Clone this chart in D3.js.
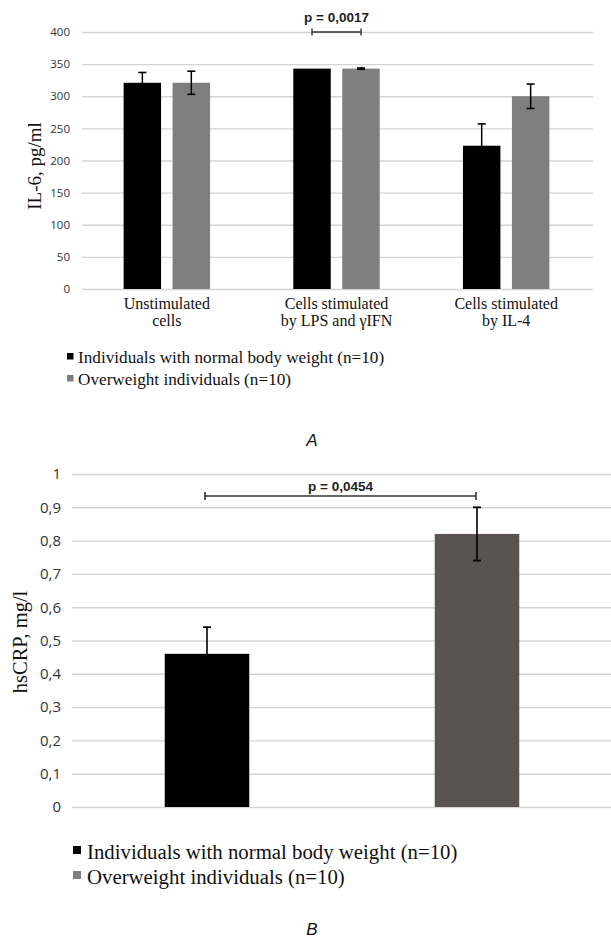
<!DOCTYPE html>
<html>
<head>
<meta charset="utf-8">
<script src="https://cdn.jsdelivr.net/npm/d3@7"></script>
<style>
  html, body { margin: 0; padding: 0; background: #fff; }
  svg { display: block; }
</style>
</head>
<body>
<svg id="chart" width="611" height="938"></svg>
<script>
// ---------- DATA: panel A (IL-6) ----------
const categoriesA = [
  ["Unstimulated", "cells"],
  ["Cells stimulated", "by LPS and \u03B3IFN"],
  ["Cells stimulated", "by IL-4"]
];
const seriesNames = [
  "Individuals with normal body weight (n=10)",
  "Overweight individuals (n=10)"
];
const normalA = [321, 343, 223];
const normalErrA = [16, 0, 34];
const overA = [321, 343, 300];
const overErrA = [18, 1, 19];
const ticksA = [0, 50, 100, 150, 200, 250, 300, 350, 400];
const tickLabelsA = ["0", "50", "100", "150", "200", "250", "300", "350", "400"];
const pLabelA = "p = 0,0017";
const pLevelA = 400;

// ---------- DATA: panel B (hsCRP) ----------
const categoriesB = seriesNames;
const valuesB = [0.46, 0.82];
const errB = [0.08, 0.08];
const ticksB = [0, 0.1, 0.2, 0.3, 0.4, 0.5, 0.6, 0.7, 0.8, 0.9, 1];
const tickLabelsB = ["0", "0,1", "0,2", "0,3", "0,4", "0,5", "0,6", "0,7", "0,8", "0,9", "1"];
const pLabelB = "p = 0,0454";
const pLevelB = 0.934;

// ---------- STYLE ----------
const SERIF = "'Liberation Serif', 'Times New Roman', serif";
const SANS = "'Liberation Sans', Arial, sans-serif";
const TICKF = "'Open Sans', sans-serif";
const colorsA = ["#000000", "#7f7f7f"];
const colorsB = ["#000000", "#5a5351"];
const gridColor = "#d4d4d4";

const svg = d3.select("#chart");

// ====================== PANEL A ======================
(function () {
  const left = 82, right = 591, top = 32, bottom = 289;
  const g = svg.append("g");
  const x0 = d3.scaleBand().domain(d3.range(categoriesA.length)).range([left, right]).padding(0);
  const x1 = d3.scaleBand().domain([0, 1]).range([0, x0.bandwidth()]).paddingInner(0.235).paddingOuter(0.85);
  const y = d3.scaleLinear().domain([0, 400]).range([bottom, top]);

  const grid = g.append("g").attr("transform", `translate(${left},0)`)
    .call(d3.axisLeft(y).tickValues(ticksA).tickSize(-(right - left + 2)).tickFormat(""));
  grid.select(".domain").remove();
  grid.selectAll(".tick line").attr("stroke", gridColor).attr("stroke-width", 1.3);

  const ax = g.append("g").attr("transform", `translate(${left},0)`)
    .call(d3.axisLeft(y).tickValues(ticksA).tickSize(0).tickPadding(12)
      .tickFormat((d, i) => tickLabelsA[i]));
  ax.select(".domain").remove();
  ax.selectAll("text").attr("font-family", TICKF).attr("font-size", 11.5).attr("fill", "#333");

  const series = [
    { vals: normalA, errs: normalErrA },
    { vals: overA, errs: overErrA }
  ];
  series.forEach((s, si) => {
    const gs = g.append("g");
    gs.selectAll("rect").data(s.vals).join("rect")
      .attr("x", (d, i) => x0(i) + x1(si))
      .attr("width", x1.bandwidth())
      .attr("y", d => y(d))
      .attr("height", d => y(0) - y(d))
      .attr("fill", colorsA[si]);
    s.vals.forEach((v, i) => {
      const e = s.errs[i];
      if (!e) return;
      const cx = x0(i) + x1(si) + x1.bandwidth() / 2;
      gs.append("line").attr("x1", cx).attr("x2", cx).attr("y1", y(v - e)).attr("y2", y(v + e))
        .attr("stroke", "#000").attr("stroke-width", 1.5);
      [v - e, v + e].forEach(t => {
        gs.append("line").attr("x1", cx - 4).attr("x2", cx + 4).attr("y1", y(t)).attr("y2", y(t))
          .attr("stroke", "#000").attr("stroke-width", 1.6);
      });
    });
  });

  categoriesA.forEach((lines, i) => {
    const cx = x0(i) + x0.bandwidth() / 2;
    const t = g.append("text").attr("x", cx).attr("y", 309)
      .attr("text-anchor", "middle").attr("font-family", SERIF).attr("font-size", 16)
      .attr("fill", "#111");
    lines.forEach((ln, li) => {
      t.append("tspan").attr("x", cx).attr("dy", li === 0 ? 0 : 17).text(ln);
    });
  });

  g.append("text").attr("transform", `translate(34,166) rotate(-90)`)
    .attr("text-anchor", "middle").attr("dy", "0.35em")
    .attr("font-family", SERIF).attr("font-size", 19).attr("fill", "#111").text("IL-6, pg/ml");

  const bx1 = x0(1) + x1(0) + x1.bandwidth() / 2;
  const bx2 = x0(1) + x1(1) + x1.bandwidth() / 2;
  const by = y(pLevelA);
  g.append("line").attr("x1", bx1).attr("x2", bx2).attr("y1", by).attr("y2", by)
    .attr("stroke", "#333").attr("stroke-width", 1.4);
  [bx1, bx2].forEach(bx => g.append("line").attr("x1", bx).attr("x2", bx)
    .attr("y1", by - 3.5).attr("y2", by + 3.5).attr("stroke", "#333").attr("stroke-width", 1.4));
  g.append("text").attr("x", (bx1 + bx2) / 2).attr("y", 22).attr("text-anchor", "middle")
    .attr("font-family", SANS).attr("font-weight", "bold").attr("font-size", 13.5)
    .attr("fill", "#222").text(pLabelA);

  seriesNames.forEach((nm, i) => {
    const ly = 363 + i * 22;
    g.append("rect").attr("x", 67).attr("y", ly - 10).attr("width", 6.5).attr("height", 6.5)
      .attr("fill", colorsA[i]);
    g.append("text").attr("x", 78).attr("y", ly).attr("font-family", SERIF).attr("font-size", 17.2)
      .attr("fill", "#111").text(nm);
  });

  g.append("text").attr("x", 312).attr("y", 446).attr("text-anchor", "middle")
    .attr("font-family", SANS).attr("font-style", "italic").attr("font-size", 17)
    .attr("fill", "#111").text("A");
})();

// ====================== PANEL B ======================
(function () {
  const left = 72, right = 612, top = 474, bottom = 807;
  const g = svg.append("g");
  const x = d3.scaleBand().domain(categoriesB).range([left, right]).paddingInner(0.687).paddingOuter(0.3435);
  const y = d3.scaleLinear().domain([0, 1]).range([bottom, top]);

  const grid = g.append("g").attr("transform", `translate(${left},0)`)
    .call(d3.axisLeft(y).tickValues(ticksB).tickSize(-(right - left)).tickFormat(""));
  grid.select(".domain").remove();
  grid.selectAll(".tick line").attr("stroke", gridColor).attr("stroke-width", 1.4);

  const ax = g.append("g").attr("transform", `translate(${left},0)`)
    .call(d3.axisLeft(y).tickValues(ticksB).tickSize(0).tickPadding(11)
      .tickFormat((d, i) => tickLabelsB[i]));
  ax.select(".domain").remove();
  ax.selectAll("text").attr("font-family", TICKF).attr("font-size", 15).attr("fill", "#333");

  g.selectAll("rect.bar").data(valuesB).join("rect").attr("class", "bar")
    .attr("x", (d, i) => x(categoriesB[i]))
    .attr("width", x.bandwidth())
    .attr("y", d => y(d))
    .attr("height", d => y(0) - y(d))
    .attr("fill", (d, i) => colorsB[i]);

  valuesB.forEach((v, i) => {
    const e = errB[i];
    const cx = x(categoriesB[i]) + x.bandwidth() / 2;
    g.append("line").attr("x1", cx).attr("x2", cx).attr("y1", y(v - e)).attr("y2", y(v + e))
      .attr("stroke", "#000").attr("stroke-width", 1.6);
    [v - e, v + e].forEach(t => g.append("line").attr("x1", cx - 4).attr("x2", cx + 4)
      .attr("y1", y(t)).attr("y2", y(t)).attr("stroke", "#000").attr("stroke-width", 1.8));
  });

  g.append("text").attr("transform", `translate(20,642) rotate(-90)`)
    .attr("text-anchor", "middle").attr("dy", "0.35em")
    .attr("font-family", SERIF).attr("font-size", 20.5).attr("fill", "#111").text("hsCRP, mg/l");

  const bx1 = x(categoriesB[0]) + x.bandwidth() / 2 - 2;
  const bx2 = x(categoriesB[1]) + x.bandwidth() / 2 - 1;
  const by = y(pLevelB);
  g.append("line").attr("x1", bx1).attr("x2", bx2).attr("y1", by).attr("y2", by)
    .attr("stroke", "#333").attr("stroke-width", 1.6);
  [bx1, bx2].forEach(bx => g.append("line").attr("x1", bx).attr("x2", bx)
    .attr("y1", by - 4).attr("y2", by + 4).attr("stroke", "#333").attr("stroke-width", 1.6));
  g.append("text").attr("x", (bx1 + bx2) / 2).attr("y", 491).attr("text-anchor", "middle")
    .attr("font-family", SANS).attr("font-weight", "bold").attr("font-size", 13.5)
    .attr("fill", "#222").text(pLabelB);

  seriesNames.forEach((nm, i) => {
    const ly = 859 + i * 25;
    g.append("rect").attr("x", 73).attr("y", ly - 13).attr("width", 8).attr("height", 8)
      .attr("fill", i === 0 ? "#000" : "#7f7f7f");
    g.append("text").attr("x", 87).attr("y", ly).attr("font-family", SERIF).attr("font-size", 20.8)
      .attr("fill", "#111").text(nm);
  });

  g.append("text").attr("x", 312).attr("y", 935).attr("text-anchor", "middle")
    .attr("font-family", SANS).attr("font-style", "italic").attr("font-size", 17)
    .attr("fill", "#111").text("B");
})();
</script>
</body>
</html>
